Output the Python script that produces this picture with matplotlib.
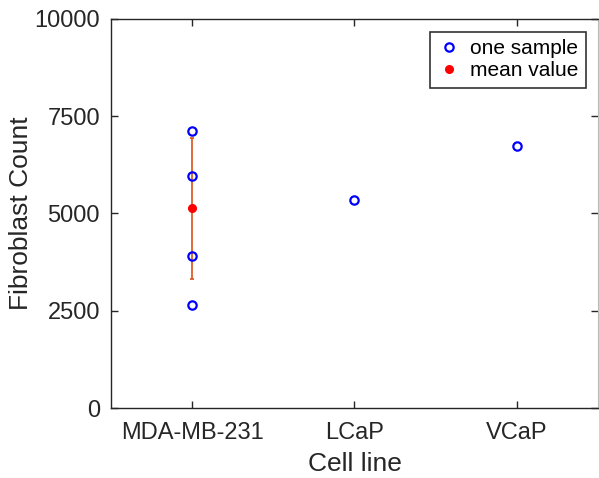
import matplotlib.pyplot as plt
import matplotlib

matplotlib.rcParams['font.family'] = ['Liberation Sans', 'DejaVu Sans']

# data
cell_lines = ['MDA-MB-231', 'LCaP', 'VCaP']
mda_samples = [7120, 5965, 3905, 2650]
lcap_samples = [5345]
vcap_samples = [6735]
mda_mean = 5135
mda_err = 1810

gray = (0.15, 0.15, 0.15)

fig = plt.figure(figsize=(5.99, 4.78), dpi=100)
ax = fig.add_axes([0.1853, 0.1464, 0.8130, 0.8139])

samples = [mda_samples, lcap_samples, vcap_samples]
first = True
for i, vals in enumerate(samples):
    ax.plot([i + 1] * len(vals), vals, 'o', mfc='none', mec='blue', ms=6, mew=1.6,
            linestyle='none', label='one sample' if first else None, zorder=3)
    first = False

ax.errorbar([1], [mda_mean], yerr=[mda_err], fmt='none', ecolor='#D95319',
            elinewidth=1.2, capsize=1.5, capthick=1.2, zorder=2)
ax.plot([1], [mda_mean], 'o', color='red', ms=5.5, linestyle='none',
        label='mean value', zorder=4)

ax.set_xlim(0.5, 3.5)
ax.set_ylim(0, 10000)
ax.set_xticks([1, 2, 3])
ax.set_xticklabels(cell_lines)
ax.set_yticks([0, 2500, 5000, 7500, 10000])

ax.tick_params(direction='in', length=5, width=1, colors=gray, labelsize=17,
               top=True, right=True)
ax.tick_params(axis='x', pad=10)
ax.tick_params(axis='y', pad=8)
for s in ['left', 'bottom', 'top']:
    ax.spines[s].set_color(gray)
    ax.spines[s].set_linewidth(1)
ax.spines['right'].set_color('#bbbbbb')

ax.set_xlabel('Cell line', fontsize=19, color=gray, labelpad=6)
ax.set_ylabel('Fibroblast Count', fontsize=19, color=gray, labelpad=1)

leg = ax.legend(loc='upper right', fontsize=15, frameon=True, fancybox=False,
                edgecolor='black', handlelength=1.2, handletextpad=0.4,
                borderpad=0.35, labelspacing=0.15, borderaxespad=0,
                bbox_to_anchor=(0.975, 0.967))
leg.get_frame().set_linewidth(1.2)

fig.savefig('out.png', dpi=100)
